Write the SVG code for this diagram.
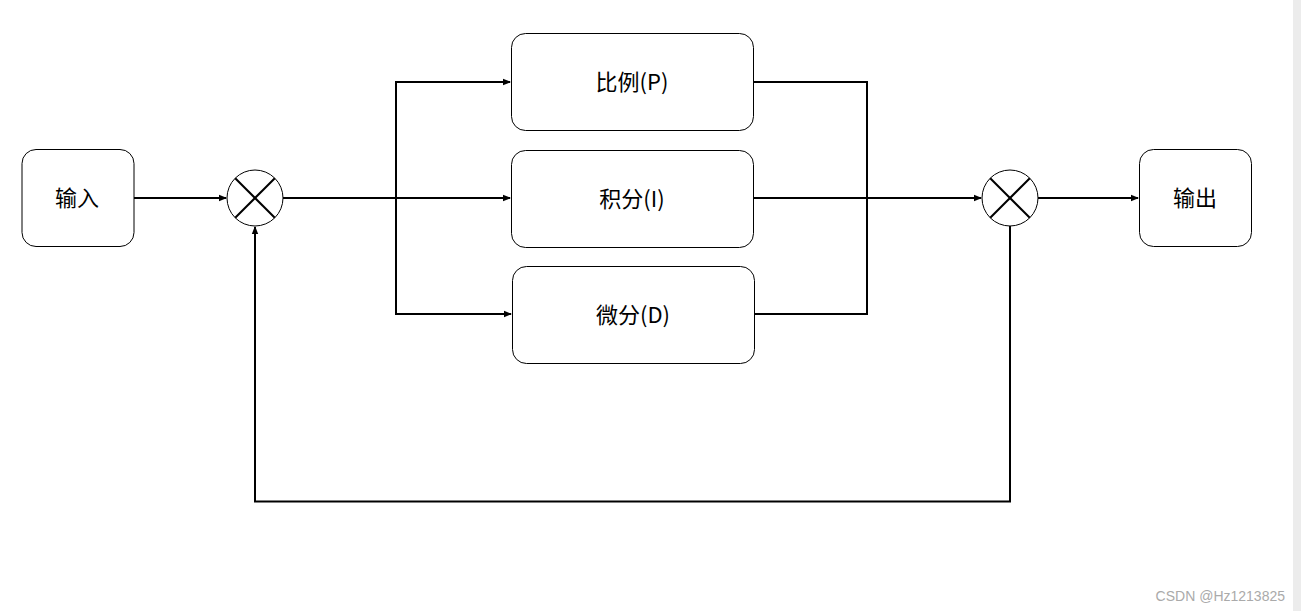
<svg xmlns="http://www.w3.org/2000/svg" width="1301" height="611" viewBox="0 0 1301 611">
<style>
.box{fill:#fff;stroke:#000;stroke-width:1}
.lbl{font-family:"Noto Sans CJK SC","Liberation Sans",sans-serif;font-size:22px;fill:#000;text-anchor:middle;dominant-baseline:central}
.wire{fill:none;stroke:#000;stroke-width:2}
.x{stroke:#000;stroke-width:2}
</style>
<defs>
<marker id="arr" markerWidth="8" markerHeight="8" refX="7" refY="4" orient="auto" markerUnits="userSpaceOnUse">
<path d="M0,0.8 L8,4 L0,7.2 Z" fill="#000"/>
</marker>
</defs>
<rect width="1301" height="611" fill="#fff"/>
<rect x="1293" y="0" width="8" height="611" fill="#ececec"/>
<g id="connectors">
<path class="wire" d="M134,198 L226,198" marker-end="url(#arr)"/>
<path class="wire" d="M283,198 L510,198" marker-end="url(#arr)"/>
<path class="wire" d="M396,198 L396,82 L510,82" marker-end="url(#arr)"/>
<path class="wire" d="M396,198 L396,314 L511,314" marker-end="url(#arr)"/>
<path class="wire" d="M754,82 L867,82 L867,314 L755,314"/>
<path class="wire" d="M754,198 L981,198" marker-end="url(#arr)"/>
<path class="wire" d="M1038,198 L1138,198" marker-end="url(#arr)"/>
<path class="wire" d="M1010,226 L1010,501.5 L255,501.5 L255,227" marker-end="url(#arr)"/>
</g>
<g id="input"><rect class="box" x="22" y="149.5" width="112" height="97" rx="14"/><text class="lbl" x="77" y="196">输入</text></g>
<g id="sum1"><circle cx="255" cy="198" r="28" fill="#fff" stroke="#000" stroke-width="1"/><line class="x" x1="235.2" y1="178.2" x2="274.8" y2="217.8"/><line class="x" x1="274.8" y1="178.2" x2="235.2" y2="217.8"/></g>
<g id="p"><rect class="box" x="511.5" y="33.5" width="242" height="97" rx="14"/><text class="lbl" x="632" y="80">比例(P)</text></g>
<g id="i"><rect class="box" x="511.5" y="150.5" width="242" height="97" rx="14"/><text class="lbl" x="632" y="197">积分(I)</text></g>
<g id="d"><rect class="box" x="512.5" y="266.5" width="242" height="97" rx="14"/><text class="lbl" x="633" y="313">微分(D)</text></g>
<g id="sum2"><circle cx="1010" cy="198" r="28" fill="#fff" stroke="#000" stroke-width="1"/><line class="x" x1="990.2" y1="178.2" x2="1029.8" y2="217.8"/><line class="x" x1="1029.8" y1="178.2" x2="990.2" y2="217.8"/></g>
<g id="output"><rect class="box" x="1139.5" y="149.5" width="112" height="97" rx="14"/><text class="lbl" x="1195" y="196">输出</text></g>
<text x="1285" y="601" font-family="Liberation Sans,sans-serif" font-size="14" fill="#aaa" text-anchor="end">CSDN @Hz1213825</text>
</svg>
